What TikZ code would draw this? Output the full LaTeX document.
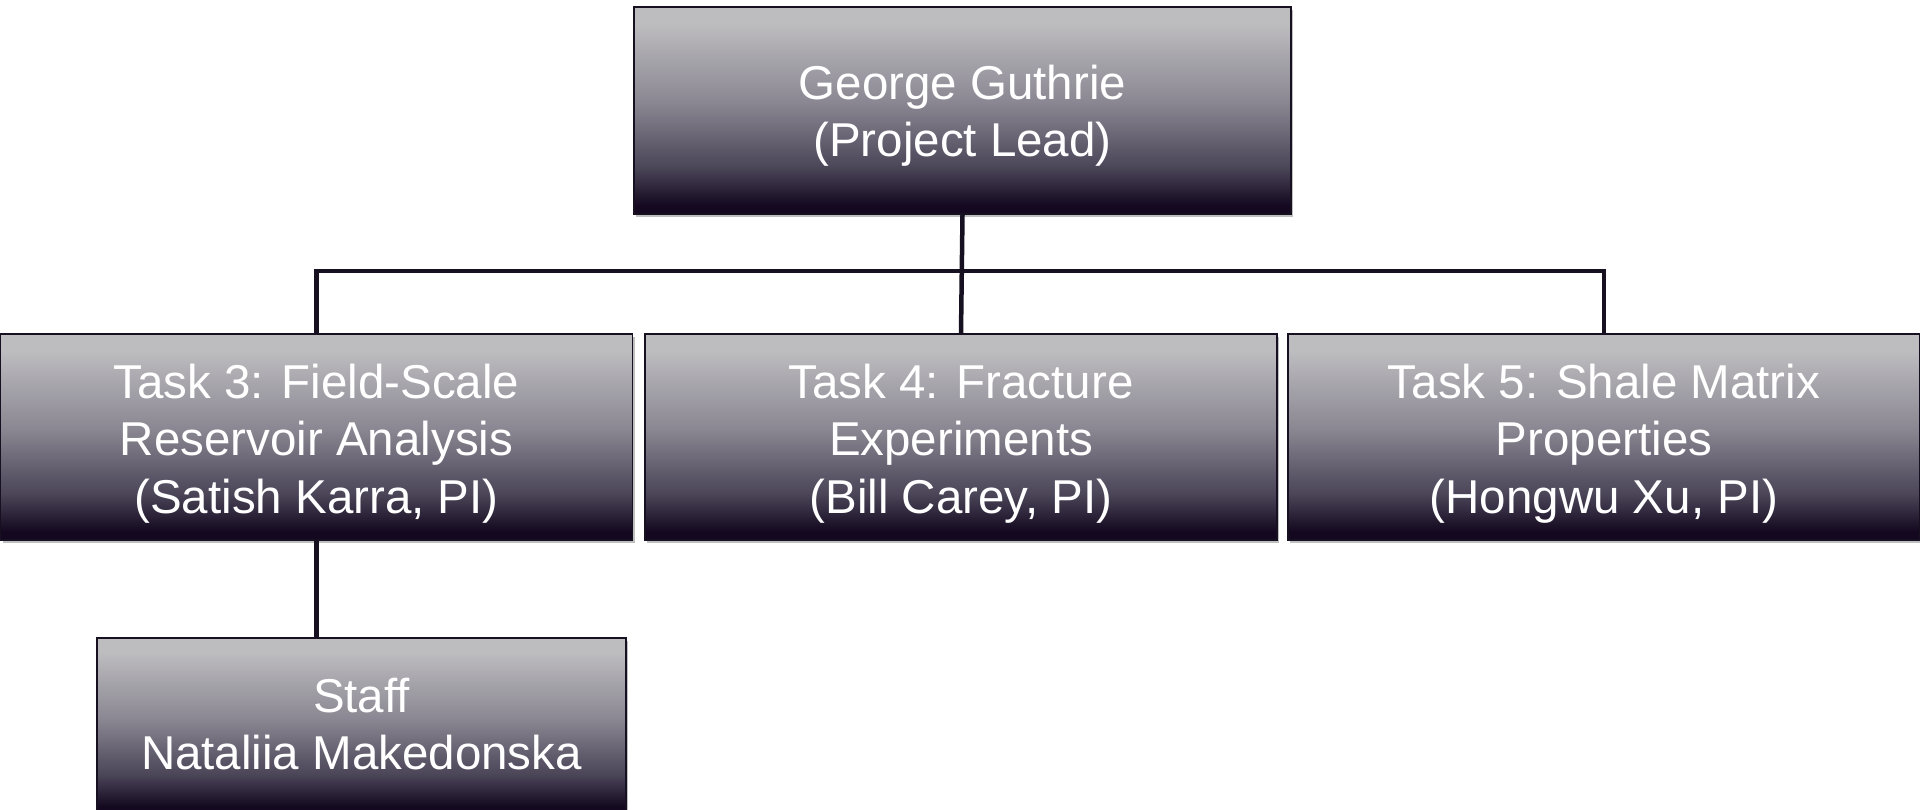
\documentclass[tikz,border=0pt]{standalone}
\usepackage{fontspec}
\setmainfont{Liberation Sans}
\usetikzlibrary{shadows}
\definecolor{lt}{HTML}{BDBCBF}
\definecolor{mid}{HTML}{8A8792}
\definecolor{lowc}{HTML}{4A4457}
\definecolor{dk}{HTML}{13081F}
\definecolor{linec}{HTML}{161020}
\pgfdeclareverticalshading{boxshade}{100bp}{color(0bp)=(dk); color(27bp)=(dk); color(36bp)=(lowc); color(52bp)=(mid); color(71bp)=(lt); color(100bp)=(lt)}
\tikzset{
  orgbox/.style={rectangle, draw=linec, line width=1.2pt, shading=boxshade,
    inner sep=0pt,
    drop shadow={shadow xshift=2pt, shadow yshift=-3pt, opacity=0.25, fill=black}},
  orgtext/.style={text=white, align=center, inner sep=0pt,
    font=\fontsize{47.5}{57.5}\selectfont},
  conn/.style={draw=linec, line width=4.5pt}
}
\begin{document}
\begin{tikzpicture}[x=1pt,y=-1pt]
\useasboundingbox (0,0) rectangle (1920,810);
\node[orgbox, minimum width=657, minimum height=207] (top) at (962.5,110.5) {};
\node[orgbox, minimum width=632, minimum height=206] (t3) at (316.5,437) {};
\node[orgbox, minimum width=632, minimum height=206] (t4) at (961,437) {};
\node[orgbox, minimum width=632, minimum height=206] (t5) at (1604,437) {};
\node[orgbox, minimum width=529, minimum height=176] (staff) at (361.5,726) {};
\coordinate (bus) at (962.5,271);
\draw[conn] (top.south) -- (t4.north);
\draw[conn] (t3.north) |- (bus) -| (t5.north);
\draw[conn] (t3.south) -- (t3.south |- staff.north);
\node[orgtext] (topt) at ([yshift=-5pt]top.center) {George Guthrie\\(Project Lead)};
\node[orgtext] (t3t) at ([yshift=-6.5pt]t3.center) {Task 3: Field-Scale\\Reservoir Analysis\\(Satish Karra, PI)};
\node[orgtext] (t4t) at ([yshift=-6.5pt]t4.center) {Task 4: Fracture\\Experiments\\(Bill Carey, PI)};
\node[orgtext] (t5t) at ([yshift=-6.5pt]t5.center) {Task 5: Shale Matrix\\Properties\\ (Hongwu Xu, PI)};
\node[orgtext] (stafft) at ([yshift=2pt]staff.center) {Staff\\Nataliia Makedonska};
\end{tikzpicture}
\end{document}
